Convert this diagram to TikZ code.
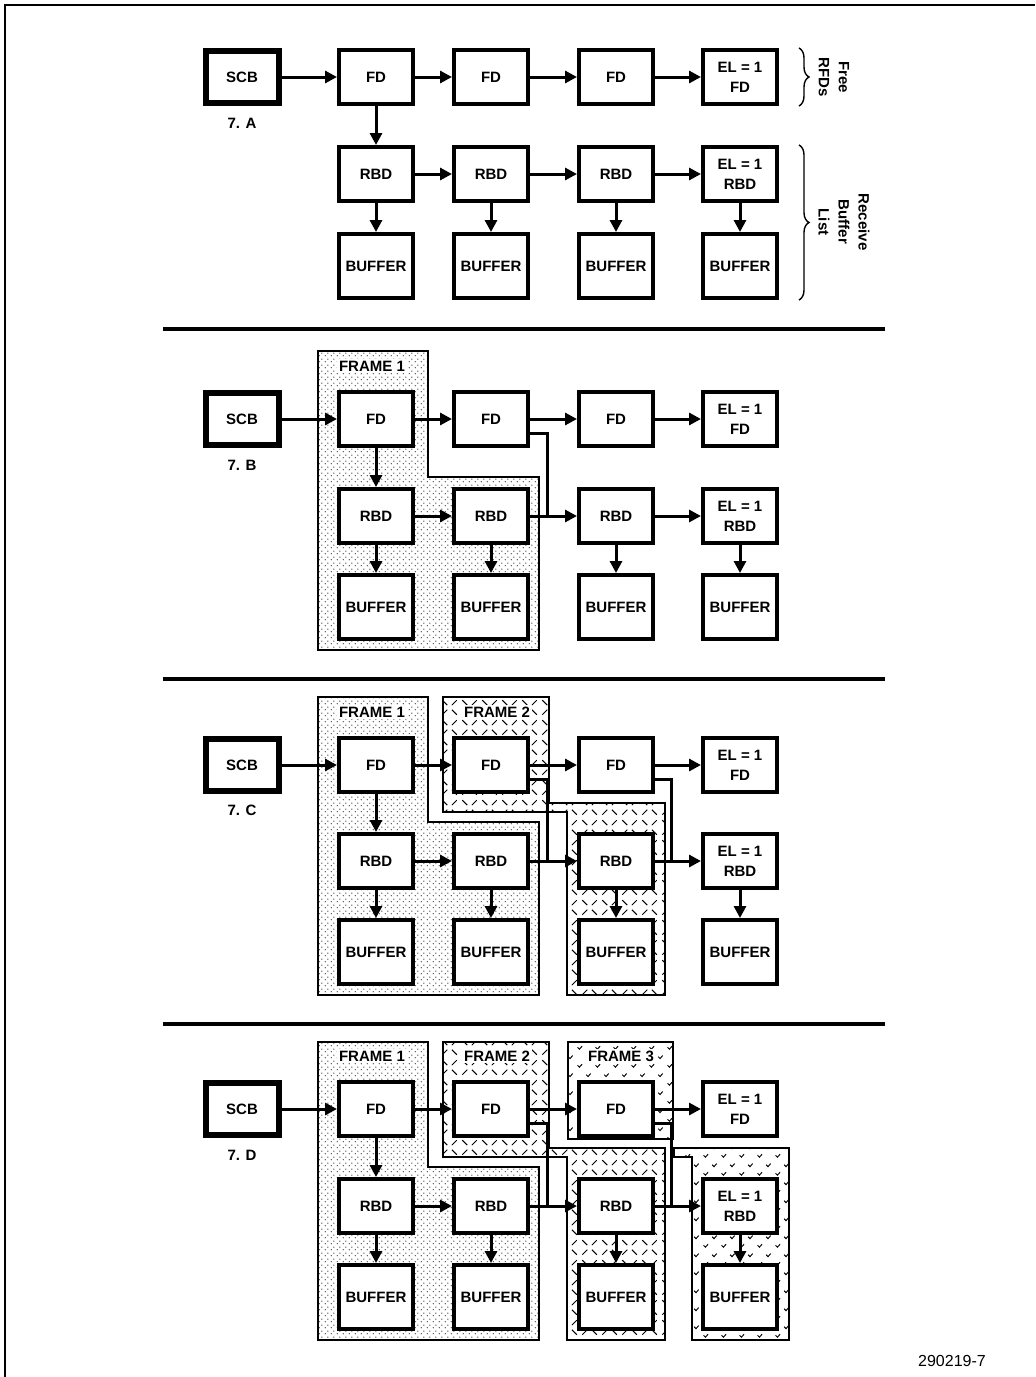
\documentclass[tikz,border=0pt]{standalone}
\usepackage{fontspec}
\setmainfont{Liberation Sans}
\usetikzlibrary{arrows.meta,positioning,patterns.meta,decorations.pathreplacing}

% fill patterns for the frame regions
\tikzdeclarepattern{
  name=stipple, type=uncolored,
  bounding box={(0pt,0pt) and (3pt,3pt)},
  tile size={(3pt,3pt)},
  code={
    \fill (0.75pt,0.75pt) circle (0.38pt);
    \fill (2.25pt,2.25pt) circle (0.38pt);
  }
}
\tikzdeclarepattern{
  name=herring, type=uncolored,
  bounding box={(0pt,0pt) and (10pt,10pt)},
  tile size={(10pt,10pt)},
  code={
    \draw[line width=0.5pt] (1.2pt,1.2pt) -- (3.8pt,3.8pt)
      (6.2pt,3.8pt) -- (8.8pt,1.2pt)
      (1.2pt,8.8pt) -- (3.8pt,6.2pt)
      (6.2pt,6.2pt) -- (8.8pt,8.8pt);
  }
}
\tikzdeclarepattern{
  name=vmark, type=uncolored,
  bounding box={(0pt,0pt) and (9pt,9pt)},
  tile size={(9pt,9pt)},
  code={
    \draw[line width=0.5pt] (0.8pt,3pt) -- (1.8pt,2pt) -- (3.2pt,3.6pt)
      (5.3pt,7.5pt) -- (6.3pt,6.5pt) -- (7.7pt,8.1pt);
  }
}

\begin{document}
\begin{tikzpicture}[
  x=0.5pt,y=-0.5pt,
  font=\bfseries\fontsize{7.5}{10}\selectfont,
  blk/.style={draw,line width=2pt,fill=white,minimum width=37pt,
              minimum height=27pt,inner sep=1pt,align=center},
  buf/.style={blk,minimum height=32pt},
  scb/.style={blk,line width=3pt,minimum width=36.5pt,minimum height=26pt},
  arr/.style={-{Triangle[length=6pt,width=6pt]},line width=1.5pt},
  lnk/.style={line width=1.5pt},
  sep/.style={line width=2pt},
  frmone/.style={draw,line width=0.6pt,pattern=stipple,pattern color=black!80},
  frmtwo/.style={draw,line width=0.6pt,pattern=herring},
  frmthree/.style={draw,line width=0.6pt,pattern=vmark},
  tag/.style={fill=white,inner sep=1pt},
  brc/.style={decorate,decoration={brace,amplitude=5pt},line width=0.7pt},
]
\useasboundingbox (0,0) rectangle (1035,1377);
\draw[line width=1pt] (5,1377) -- (5,5) -- (1035,5);

% ---------- 7.A ----------
\node[scb] (scbA) at (242,77) {SCB};
\node (labA) at (242,123) {7. A};
\node[blk] (fdA1) at (376,77) {FD};
\node[blk] (fdA2) at (491,77) {FD};
\node[blk] (fdA3) at (616,77) {FD};
\node[blk] (fdA4) at (740,77) {EL = 1\\FD};
\node[blk] (rbdA1) at (376,174) {RBD};
\node[blk] (rbdA2) at (491,174) {RBD};
\node[blk] (rbdA3) at (616,174) {RBD};
\node[blk] (rbdA4) at (740,174) {EL = 1\\RBD};
\node[buf] (bufA1) at (376,266) {BUFFER};
\node[buf] (bufA2) at (491,266) {BUFFER};
\node[buf] (bufA3) at (616,266) {BUFFER};
\node[buf] (bufA4) at (740,266) {BUFFER};

\draw[arr] (scbA) -- (fdA1);
\draw[arr] (fdA1) -- (fdA2);
\draw[arr] (fdA2) -- (fdA3);
\draw[arr] (fdA3) -- (fdA4);
\draw[arr] (fdA1) -- (rbdA1);
\draw[arr] (rbdA1) -- (rbdA2);
\draw[arr] (rbdA2) -- (rbdA3);
\draw[arr] (rbdA3) -- (rbdA4);
\draw[arr] (rbdA1) -- (bufA1);
\draw[arr] (rbdA2) -- (bufA2);
\draw[arr] (rbdA3) -- (bufA3);
\draw[arr] (rbdA4) -- (bufA4);

% braces on the right
\draw[brc] ([xshift=10pt]fdA4.north east) -- ([xshift=10pt]fdA4.south east);
\node[rotate=-90,align=center] (freeA) at (834,77) {Free\\RFDs};
\draw[brc] ([xshift=10pt]rbdA4.north east) -- ([xshift=10pt]bufA4.south east);
\node[rotate=-90,align=center] (listA) at (844,222) {Receive\\Buffer\\List};

\draw[sep] (163,329) -- (885,329);

% ---------- 7.B ----------
\draw[frmone] (318,351) -- (428,351) -- (428,477) -- (539,477) -- (539,650)
  -- (318,650) -- cycle;
\node[tag] (frB1) at (372,366) {FRAME 1};

\node[scb] (scbB) at (242,419) {SCB};
\node (labB) at (242,465) {7. B};
\node[blk] (fdB1) at (376,419) {FD};
\node[blk] (fdB2) at (491,419) {FD};
\node[blk] (fdB3) at (616,419) {FD};
\node[blk] (fdB4) at (740,419) {EL = 1\\FD};
\node[blk] (rbdB1) at (376,516) {RBD};
\node[blk] (rbdB2) at (491,516) {RBD};
\node[blk] (rbdB3) at (616,516) {RBD};
\node[blk] (rbdB4) at (740,516) {EL = 1\\RBD};
\node[buf] (bufB1) at (376,607) {BUFFER};
\node[buf] (bufB2) at (491,607) {BUFFER};
\node[buf] (bufB3) at (616,607) {BUFFER};
\node[buf] (bufB4) at (740,607) {BUFFER};

\draw[arr] (scbB) -- (fdB1);
\draw[arr] (fdB1) -- (fdB2);
\draw[arr] (fdB2) -- (fdB3);
\draw[arr] (fdB3) -- (fdB4);
\draw[arr] (fdB1) -- (rbdB1);
\draw[arr] (rbdB1) -- (rbdB2);
\draw[arr] (rbdB2) -- (rbdB3);
\draw[lnk] ([yshift=-7pt]fdB2.east) -| ([xshift=-15pt]rbdB3.west);
\draw[arr] (rbdB3) -- (rbdB4);
\draw[arr] (rbdB1) -- (bufB1);
\draw[arr] (rbdB2) -- (bufB2);
\draw[arr] (rbdB3) -- (bufB3);
\draw[arr] (rbdB4) -- (bufB4);

\draw[sep] (163,679) -- (885,679);

% ---------- 7.C ----------
\draw[frmone] (318,697) -- (428,697) -- (428,822) -- (539,822) -- (539,995)
  -- (318,995) -- cycle;
\draw[frmtwo] (443,697) -- (549,697) -- (549,803) -- (665,803) -- (665,995)
  -- (567,995) -- (567,812) -- (443,812) -- cycle;
\node[tag] (frC1) at (372,712) {FRAME 1};
\node[tag] (frC2) at (497,712) {FRAME 2};

\node[scb] (scbC) at (242,765) {SCB};
\node (labC) at (242,810) {7. C};
\node[blk] (fdC1) at (376,765) {FD};
\node[blk] (fdC2) at (491,765) {FD};
\node[blk] (fdC3) at (616,765) {FD};
\node[blk] (fdC4) at (740,765) {EL = 1\\FD};
\node[blk] (rbdC1) at (376,861) {RBD};
\node[blk] (rbdC2) at (491,861) {RBD};
\node[blk] (rbdC3) at (616,861) {RBD};
\node[blk] (rbdC4) at (740,861) {EL = 1\\RBD};
\node[buf] (bufC1) at (376,952) {BUFFER};
\node[buf] (bufC2) at (491,952) {BUFFER};
\node[buf] (bufC3) at (616,952) {BUFFER};
\node[buf] (bufC4) at (740,952) {BUFFER};

\draw[arr] (scbC) -- (fdC1);
\draw[arr] (fdC1) -- (fdC2);
\draw[arr] (fdC2) -- (fdC3);
\draw[arr] (fdC3) -- (fdC4);
\draw[arr] (fdC1) -- (rbdC1);
\draw[arr] (rbdC1) -- (rbdC2);
\draw[arr] (rbdC2) -- (rbdC3);
\draw[lnk] ([yshift=-7pt]fdC2.east) -| ([xshift=-15pt]rbdC3.west);
\draw[arr] (rbdC3) -- (rbdC4);
\draw[lnk] ([yshift=-7pt]fdC3.east) -| ([xshift=-15pt]rbdC4.west);
\draw[arr] (rbdC1) -- (bufC1);
\draw[arr] (rbdC2) -- (bufC2);
\draw[arr] (rbdC3) -- (bufC3);
\draw[arr] (rbdC4) -- (bufC4);

\draw[sep] (163,1024) -- (885,1024);

% ---------- 7.D ----------
\draw[frmone] (318,1042) -- (428,1042) -- (428,1167) -- (539,1167) -- (539,1340)
  -- (318,1340) -- cycle;
\draw[frmtwo] (443,1042) -- (549,1042) -- (549,1148) -- (665,1148) -- (665,1340)
  -- (567,1340) -- (567,1157) -- (443,1157) -- cycle;
\draw[frmthree] (568,1042) rectangle (673,1139);
\draw[frmthree] (674,1148) -- (789,1148) -- (789,1340) -- (692,1340)
  -- (692,1157) -- (674,1157) -- cycle;
\node[tag] (frD1) at (372,1056) {FRAME 1};
\node[tag] (frD2) at (497,1056) {FRAME 2};
\node[tag] (frD3) at (621,1056) {FRAME 3};

\node[scb] (scbD) at (242,1109) {SCB};
\node (labD) at (242,1155) {7. D};
\node[blk] (fdD1) at (376,1109) {FD};
\node[blk] (fdD2) at (491,1109) {FD};
\node[blk] (fdD3) at (616,1109) {FD};
\node[blk] (fdD4) at (740,1109) {EL = 1\\FD};
\node[blk] (rbdD1) at (376,1206) {RBD};
\node[blk] (rbdD2) at (491,1206) {RBD};
\node[blk] (rbdD3) at (616,1206) {RBD};
\node[blk] (rbdD4) at (740,1206) {EL = 1\\RBD};
\node[buf] (bufD1) at (376,1297) {BUFFER};
\node[buf] (bufD2) at (491,1297) {BUFFER};
\node[buf] (bufD3) at (616,1297) {BUFFER};
\node[buf] (bufD4) at (740,1297) {BUFFER};

\draw[arr] (scbD) -- (fdD1);
\draw[arr] (fdD1) -- (fdD2);
\draw[arr] (fdD2) -- (fdD3);
\draw[arr] (fdD3) -- (fdD4);
\draw[arr] (fdD1) -- (rbdD1);
\draw[arr] (rbdD1) -- (rbdD2);
\draw[arr] (rbdD2) -- (rbdD3);
\draw[lnk] ([yshift=-7pt]fdD2.east) -| ([xshift=-15pt]rbdD3.west);
\draw[arr] (rbdD3) -- (rbdD4);
\draw[lnk] ([yshift=-7pt]fdD3.east) -| ([xshift=-15pt]rbdD4.west);
\draw[arr] (rbdD1) -- (bufD1);
\draw[arr] (rbdD2) -- (bufD2);
\draw[arr] (rbdD3) -- (bufD3);
\draw[arr] (rbdD4) -- (bufD4);

\node[font=\fontsize{8}{10}\selectfont] (figno) at (952,1361) {290219-7};
\end{tikzpicture}
\end{document}
